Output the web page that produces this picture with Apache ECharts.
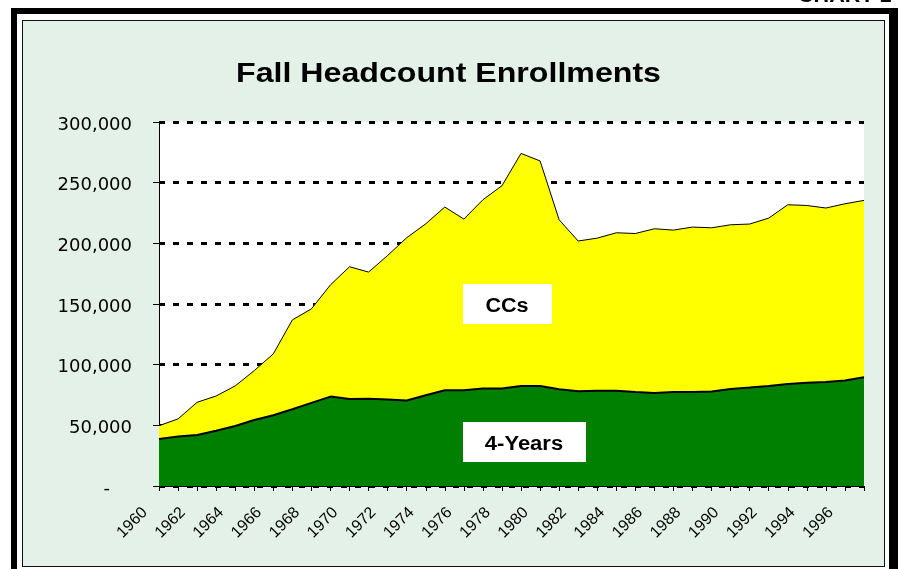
<!DOCTYPE html>
<html>
<head>
<meta charset="utf-8">
<script src="https://cdn.jsdelivr.net/npm/echarts@6/dist/echarts.min.js"></script>
<style>
  html, body { margin: 0; padding: 0; background: #ffffff; overflow: hidden; }
  #outer { position: absolute; left: 11px; top: 8px; width: 872px; height: 600px;
           border-left: 6px solid #000; border-top: 6px solid #000; border-right: 9px solid #000;
           box-sizing: content-box; }
  #inner { position: absolute; left: 22px; top: 20px; width: 861px; height: 545px;
           border: 1px solid #111; background: #e3f1e8; }
  #chart { position: absolute; left: 0; top: 0; width: 898px; height: 569px; }
</style>
</head>
<body>
<div id="outer"></div>
<div id="inner"></div>
<div id="chart"></div>
<script>
const years = ['1960','1961','1962','1963','1964','1965','1966','1967','1968','1969',
               '1970','1971','1972','1973','1974','1975','1976','1977','1978','1979',
               '1980','1981','1982','1983','1984','1985','1986','1987','1988','1989',
               '1990','1991','1992','1993','1994','1995','1996','1997'];
const fourYears = [38800, 40700, 42100, 45600, 49500, 54400, 58300, 63300, 68500, 73700,
                   71800, 72000, 71200, 70400, 74800, 78900, 78900, 80300, 80300, 82500,
                   82500, 79800, 78100, 78600, 78600, 77500, 76700, 77500, 77500, 77800,
                   80000, 81100, 82500, 84100, 85000, 85800, 86900, 89700];
const ccs = [10900, 14600, 26900, 28600, 33000, 40700, 50600, 73600, 77500, 92100,
             108900, 104300, 118800, 134200, 141300, 151000, 141100, 155600, 167200, 191600,
             185400, 139600, 123800, 125700, 130100, 130600, 135300, 133400, 135900, 135000,
             135300, 134800, 138300, 147700, 146200, 143300, 145700, 145700];
const titleText = 'Fall Headcount Enrollments';
const seriesNames = ['4-Years', 'CCs'];
const yTicks = { min: 0, max: 300000, step: 50000 };

function fmt(v) {
  if (v === 0) return '{z|-}';
  return String(v).replace(/\B(?=(\d{3})+(?!\d))/g, ',');
}

const chart = echarts.init(document.getElementById('chart'), null, { renderer: 'canvas' });
chart.setOption({
  backgroundColor: 'transparent',
  animation: false,
  grid: { left: 159, right: 34, top: 122, bottom: 83, show: true, backgroundColor: '#ffffff', borderWidth: 0 },
  xAxis: {
    type: 'category',
    data: years,
    boundaryGap: false,
    axisLine: { show: true, lineStyle: { color: '#000', width: 1 } },
    axisTick: { show: true, interval: 0, length: 5, lineStyle: { color: '#000' } },
    axisLabel: {
      interval: 1, rotate: 45, margin: 10,
      fontFamily: 'Liberation Sans, Arial, sans-serif', fontSize: 16, color: '#000',
      padding: [0, 20, 0, 0]
    },
    splitLine: { show: false }
  },
  yAxis: {
    type: 'value',
    min: yTicks.min, max: yTicks.max, interval: yTicks.step,
    axisLine: { show: true, lineStyle: { color: '#000', width: 1 } },
    axisTick: { show: true, length: 6, lineStyle: { color: '#000' } },
    axisLabel: {
      margin: 27, formatter: fmt,
      fontFamily: 'DejaVu Sans, sans-serif', fontSize: 18, color: '#000',
      padding: [6, 0, 0, 0],
      rich: { z: { fontFamily: 'DejaVu Sans, sans-serif', fontSize: 18, color: '#000', padding: [0, 22, 0, 0] } }
    },
    splitLine: { show: true, lineStyle: { color: '#000', width: 3, type: [6, 8] } }
  },
  series: [
    {
      name: seriesNames[0], type: 'line', stack: 'total', data: fourYears,
      symbol: 'none', z: 4,
      lineStyle: { color: '#000', width: 2 },
      areaStyle: { color: '#008000', opacity: 1 }
    },
    {
      name: seriesNames[1], type: 'line', stack: 'total', data: ccs,
      symbol: 'none', z: 3,
      lineStyle: { color: '#000', width: 1 },
      areaStyle: { color: '#ffff00', opacity: 1 }
    }
  ],
  graphic: [
    { type: 'text', x: 448.5, y: 75, scaleX: 1.19, z: 10,
      style: { text: titleText, font: 'bold 27px "Liberation Sans", Arial, sans-serif', fill: '#000',
               align: 'center', verticalAlign: 'middle' } },
    { type: 'text', x: 798, y: -2.5, scaleX: 1.2, z: 10,
      style: { text: 'CHART 1', font: 'bold 18px "Liberation Sans", Arial, sans-serif', fill: '#000',
               align: 'left', verticalAlign: 'middle' } },
    { type: 'rect', shape: { x: 463, y: 284, width: 89, height: 40 }, z: 10,
      style: { fill: '#ffffff' } },
    { type: 'text', x: 507, y: 306, scaleX: 1.08, z: 11,
      style: { text: seriesNames[1], font: 'bold 20px "Liberation Sans", Arial, sans-serif', fill: '#000',
               align: 'center', verticalAlign: 'middle' } },
    { type: 'rect', shape: { x: 463, y: 422, width: 123, height: 40 }, z: 10,
      style: { fill: '#ffffff' } },
    { type: 'text', x: 524, y: 444.5, scaleX: 1.1, z: 11,
      style: { text: seriesNames[0], font: 'bold 20px "Liberation Sans", Arial, sans-serif', fill: '#000',
               align: 'center', verticalAlign: 'middle' } }
  ]
});
</script>
</body>
</html>
